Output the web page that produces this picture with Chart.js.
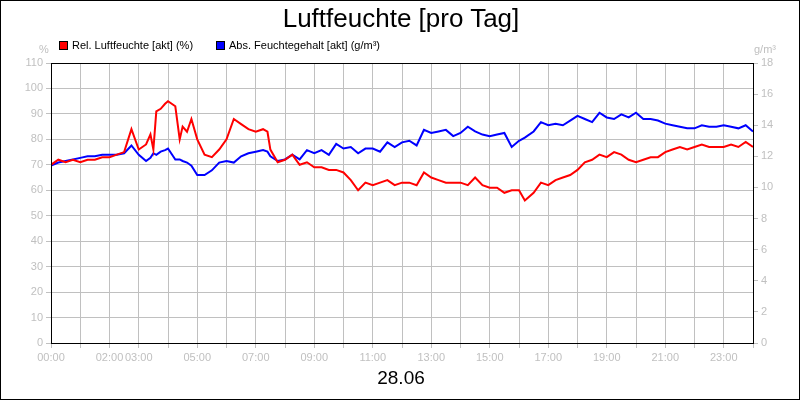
<!DOCTYPE html>
<html><head><meta charset="utf-8">
<script src="https://cdn.jsdelivr.net/npm/chart.js@4"></script>
<style>
body{margin:0;font-family:"Liberation Sans",Arial,sans-serif}
#w{position:relative;width:800px;height:400px;box-sizing:border-box;border:1px solid #000;overflow:hidden}
canvas{position:absolute;left:0;top:0}
.t{position:absolute;white-space:nowrap}
.b{display:inline-block;width:9px;height:9px;margin-right:4px;vertical-align:-1px;border:1px solid #000;box-sizing:border-box}
</style></head><body>
<div id="w">
<canvas id="c" width="800" height="400"></canvas>
<div class="t" style="left:0;width:800px;text-align:center;top:2px;font-size:26px">Luftfeuchte [pro Tag]</div>
<div class="t" style="left:58px;top:38px;font-size:11px"><span class="b" style="background:#f00"></span>Rel. Luftfeuchte [akt] (%)</div>
<div class="t" style="left:215px;top:38px;font-size:11px"><span class="b" style="background:#00f"></span>Abs. Feuchtegehalt [akt] (g/m³)</div>
<div class="t" style="left:38px;top:42px;font-size:11px;color:#c0c0c0">%</div>
<div class="t" style="left:753px;top:42px;font-size:11px;color:#c0c0c0">g/m³</div>
<div class="t" style="left:0;width:800px;text-align:center;top:366px;font-size:19px">28.06</div>
</div>
<script>
const hours=[0,0.25,0.5,0.75,1,1.25,1.5,1.75,2,2.25,2.5,2.75,3,3.25,3.4,3.5,3.6,3.75,3.9,4,4.25,4.4,4.5,4.65,4.8,5,5.25,5.5,5.75,6,6.25,6.5,6.75,7,7.25,7.4,7.5,7.75,8,8.25,8.5,8.75,9,9.25,9.5,9.75,10,10.25,10.5,10.75,11,11.25,11.5,11.75,12,12.25,12.5,12.75,13,13.25,13.5,13.75,14,14.25,14.5,14.75,15,15.25,15.5,15.75,16,16.2,16.5,16.75,17,17.25,17.5,17.75,18,18.25,18.5,18.75,19,19.25,19.5,19.75,20,20.25,20.5,20.75,21,21.25,21.5,21.75,22,22.25,22.5,22.75,23,23.25,23.5,23.75,24];
const relHum=[70,72,71,72,71,72,72,73,73,74,75,84,76,78,82,76,91,92,94,95,93,80,85,83,88,80,74,73,76,80,88,86,84,83,84,83,76,71,72,74,70,71,69,69,68,68,67,64,60,63,62,63,64,62,63,63,62,67,65,64,63,63,63,62,65,62,61,61,59,60,60,56,59,63,62,64,65,66,68,71,72,74,73,75,74,72,71,72,73,73,75,76,77,76,77,78,77,77,77,78,77,79,77];
const absHum=[11.4,11.6,11.7,11.8,11.9,12.0,12.0,12.1,12.1,12.1,12.2,12.7,12.1,11.7,11.9,12.2,12.1,12.3,12.4,12.5,11.8,11.8,11.7,11.6,11.4,10.8,10.8,11.1,11.6,11.7,11.6,12.0,12.2,12.3,12.4,12.3,12.0,11.7,11.8,12.1,11.8,12.4,12.2,12.4,12.1,12.8,12.5,12.6,12.2,12.5,12.5,12.3,12.9,12.6,12.9,13.0,12.7,13.7,13.5,13.6,13.7,13.3,13.5,13.9,13.6,13.4,13.3,13.4,13.5,12.6,13.0,13.2,13.6,14.2,14.0,14.1,14.0,14.3,14.6,14.4,14.2,14.8,14.5,14.4,14.7,14.5,14.8,14.4,14.4,14.3,14.1,14.0,13.9,13.8,13.8,14.0,13.9,13.9,14.0,13.9,13.8,14.0,13.6];
const tickLabels={0:'00:00',2:'02:00',3:'03:00',5:'05:00',7:'07:00',9:'09:00',11:'11:00',13:'13:00',15:'15:00',17:'17:00',19:'19:00',21:'21:00',23:'23:00'};
const g='#c0c0c0';
const border={id:'bd',afterDraw(c){const a=c.chartArea,x=c.ctx;x.save();x.strokeStyle='#000';x.lineWidth=1;x.strokeRect(a.left+.5,a.top+.5,a.right-a.left,a.bottom-a.top);x.restore();}};
new Chart(document.getElementById('c'),{type:'line',
data:{datasets:[
{data:hours.map((h,i)=>({x:h,y:relHum[i]})),borderColor:'#f00',borderWidth:2,pointRadius:0,yAxisID:'y',tension:0},
{data:hours.map((h,i)=>({x:h,y:absHum[i]})),borderColor:'#00f',borderWidth:2,pointRadius:0,yAxisID:'y1',tension:0}]},
options:{responsive:false,animation:false,layout:{padding:{top:62,left:0,right:0,bottom:0}},
plugins:{legend:{display:false},tooltip:{enabled:false}},
scales:{
x:{type:'linear',min:0,max:24,afterFit(s){s.height=58},ticks:{stepSize:1,autoSkip:false,maxRotation:0,color:g,font:{size:11},callback:v=>tickLabels[v]||''},grid:{color:g,tickLength:5},border:{color:'#000'}},
y:{min:0,max:110,afterFit(s){s.width=50},ticks:{stepSize:10,color:g,font:{size:11}},grid:{color:g,tickLength:5},border:{color:'#000'}},
y1:{position:'right',min:0,max:18,afterFit(s){s.width=48},ticks:{stepSize:2,color:g,font:{size:11}},grid:{drawOnChartArea:false,color:g,tickLength:5},border:{color:'#000'}}}},
plugins:[border]});
</script></body></html>
